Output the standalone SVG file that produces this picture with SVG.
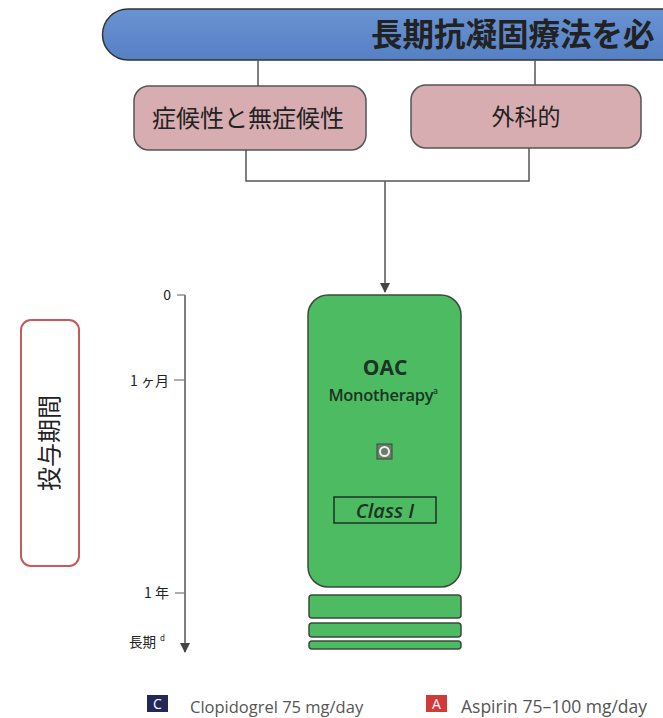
<svg xmlns="http://www.w3.org/2000/svg" width="663" height="718" viewBox="0 0 663 718">
<defs>
<style>
.jp{font-family:"Noto Sans CJK JP","Noto Sans",sans-serif;fill:#222}
.en{font-family:"Open Sans","Lato",sans-serif}
.conn{fill:none;stroke:#555;stroke-width:1.5}
.pink{fill:#d8adb2;stroke:#555;stroke-width:1.5}
.green{fill:#4cbb62;stroke:#3c4a3e;stroke-width:1.5}
</style>
<marker id="arr" viewBox="0 0 10 10" refX="9" refY="5" markerWidth="7" markerHeight="7" orient="auto">
<path d="M0,0 L10,5 L0,10 z" fill="#444"/>
</marker>
<linearGradient id="blue" x1="0" y1="0" x2="0" y2="1">
<stop offset="0" stop-color="#6a93d3"/>
<stop offset="1" stop-color="#5580c4"/>
</linearGradient>
</defs>
<rect width="663" height="718" fill="#fff"/>

<g id="header">
<path d="M128,9 H680 V60 H128 A25.5,25.5 0 0 1 128,9 Z" fill="url(#blue)" stroke="#333" stroke-width="1.5"/>
<text x="371" y="46" class="jp" font-size="31.5" font-weight="bold" fill="#1a1a1a">長期抗凝固療法を必</text>
</g>

<g id="connectors">
<line class="conn" x1="258" y1="60" x2="258" y2="86"/>
<line class="conn" x1="535" y1="60" x2="535" y2="85"/>
<polyline class="conn" points="246,150 246,181 529,181 529,148"/>
<line class="conn" x1="385" y1="181" x2="385" y2="292" marker-end="url(#arr)"/>
</g>

<g id="node-symptomatic">
<rect class="pink" x="134" y="86" width="232" height="64" rx="15"/>
<text x="248" y="127" class="jp" font-size="24" text-anchor="middle">症候性と無症候性</text>
</g>

<g id="node-surgical">
<rect class="pink" x="411" y="85" width="230" height="63" rx="15"/>
<text x="526" y="125" class="jp" font-size="23" text-anchor="middle">外科的</text>
</g>

<g id="node-oac">
<rect class="green" x="308" y="295" width="153" height="292" rx="20"/>
<text x="385" y="375" class="en" font-size="21" font-weight="bold" text-anchor="middle" fill="#1d3324">OAC</text>
<text x="383" y="401" class="en" font-size="16.5" font-weight="600" text-anchor="middle" fill="#1d3324" letter-spacing="-0.3">Monotherapy<tspan font-size="8" dy="-7">a</tspan></text>
<rect x="377" y="444" width="15" height="15" fill="#6a7d6c" stroke="#3c4a3e" stroke-width="1"/>
<circle cx="384.5" cy="451.5" r="4.5" fill="none" stroke="#e8f0e8" stroke-width="2"/>
<rect x="334" y="497" width="102" height="26" fill="none" stroke="#1d3324" stroke-width="1.5"/>
<text x="385" y="518" class="en" font-size="20" font-style="italic" font-weight="600" text-anchor="middle" fill="#1d3324">Class I</text>
<rect class="green" x="309" y="595" width="152" height="23" rx="3"/>
<rect class="green" x="309" y="623" width="152" height="14" rx="3"/>
<rect class="green" x="309" y="641" width="152" height="8" rx="3"/>
</g>

<g id="timeline">
<line x1="185" y1="295" x2="185" y2="652" stroke="#555" stroke-width="1.5" marker-end="url(#arr)"/>
<line x1="177" y1="295" x2="185" y2="295" stroke="#777" stroke-width="1.2"/>
<line x1="174" y1="380" x2="185" y2="380" stroke="#777" stroke-width="1.2"/>
<line x1="175" y1="593" x2="185" y2="593" stroke="#777" stroke-width="1.2"/>
<text x="171" y="300" class="jp" font-size="14" text-anchor="end" fill="#555">0</text>
<text x="169" y="386" class="jp" font-size="14" text-anchor="end">1 ヶ月</text>
<text x="169" y="598" class="jp" font-size="14" text-anchor="end">1 年</text>
<text x="129" y="647" class="jp" font-size="13.5">長期<tspan font-size="8" dy="-6" dx="4">d</tspan></text>
</g>

<g id="duration-label">
<rect x="21" y="320" width="58" height="246" rx="10" fill="#fff" stroke="#c45a5a" stroke-width="2"/>
<text x="0" y="0" class="jp" font-size="24" text-anchor="middle" transform="translate(58,443) rotate(-90)">投与期間</text>
</g>

<g id="legend">
<rect x="147" y="695" width="21" height="17" fill="#22285a"/>
<text x="157.5" y="709" class="en" font-size="14" fill="#fff" text-anchor="middle">C</text>
<text x="190" y="713" class="en" font-size="16.5" fill="#555">Clopidogrel 75 mg/day</text>
<rect x="426" y="695" width="21" height="17" fill="#d23a3a"/>
<text x="436.5" y="709" class="en" font-size="14" fill="#fff" text-anchor="middle">A</text>
<text x="461" y="713" class="en" font-size="17.5" fill="#555">Aspirin 75–100 mg/day</text>
</g>
</svg>
